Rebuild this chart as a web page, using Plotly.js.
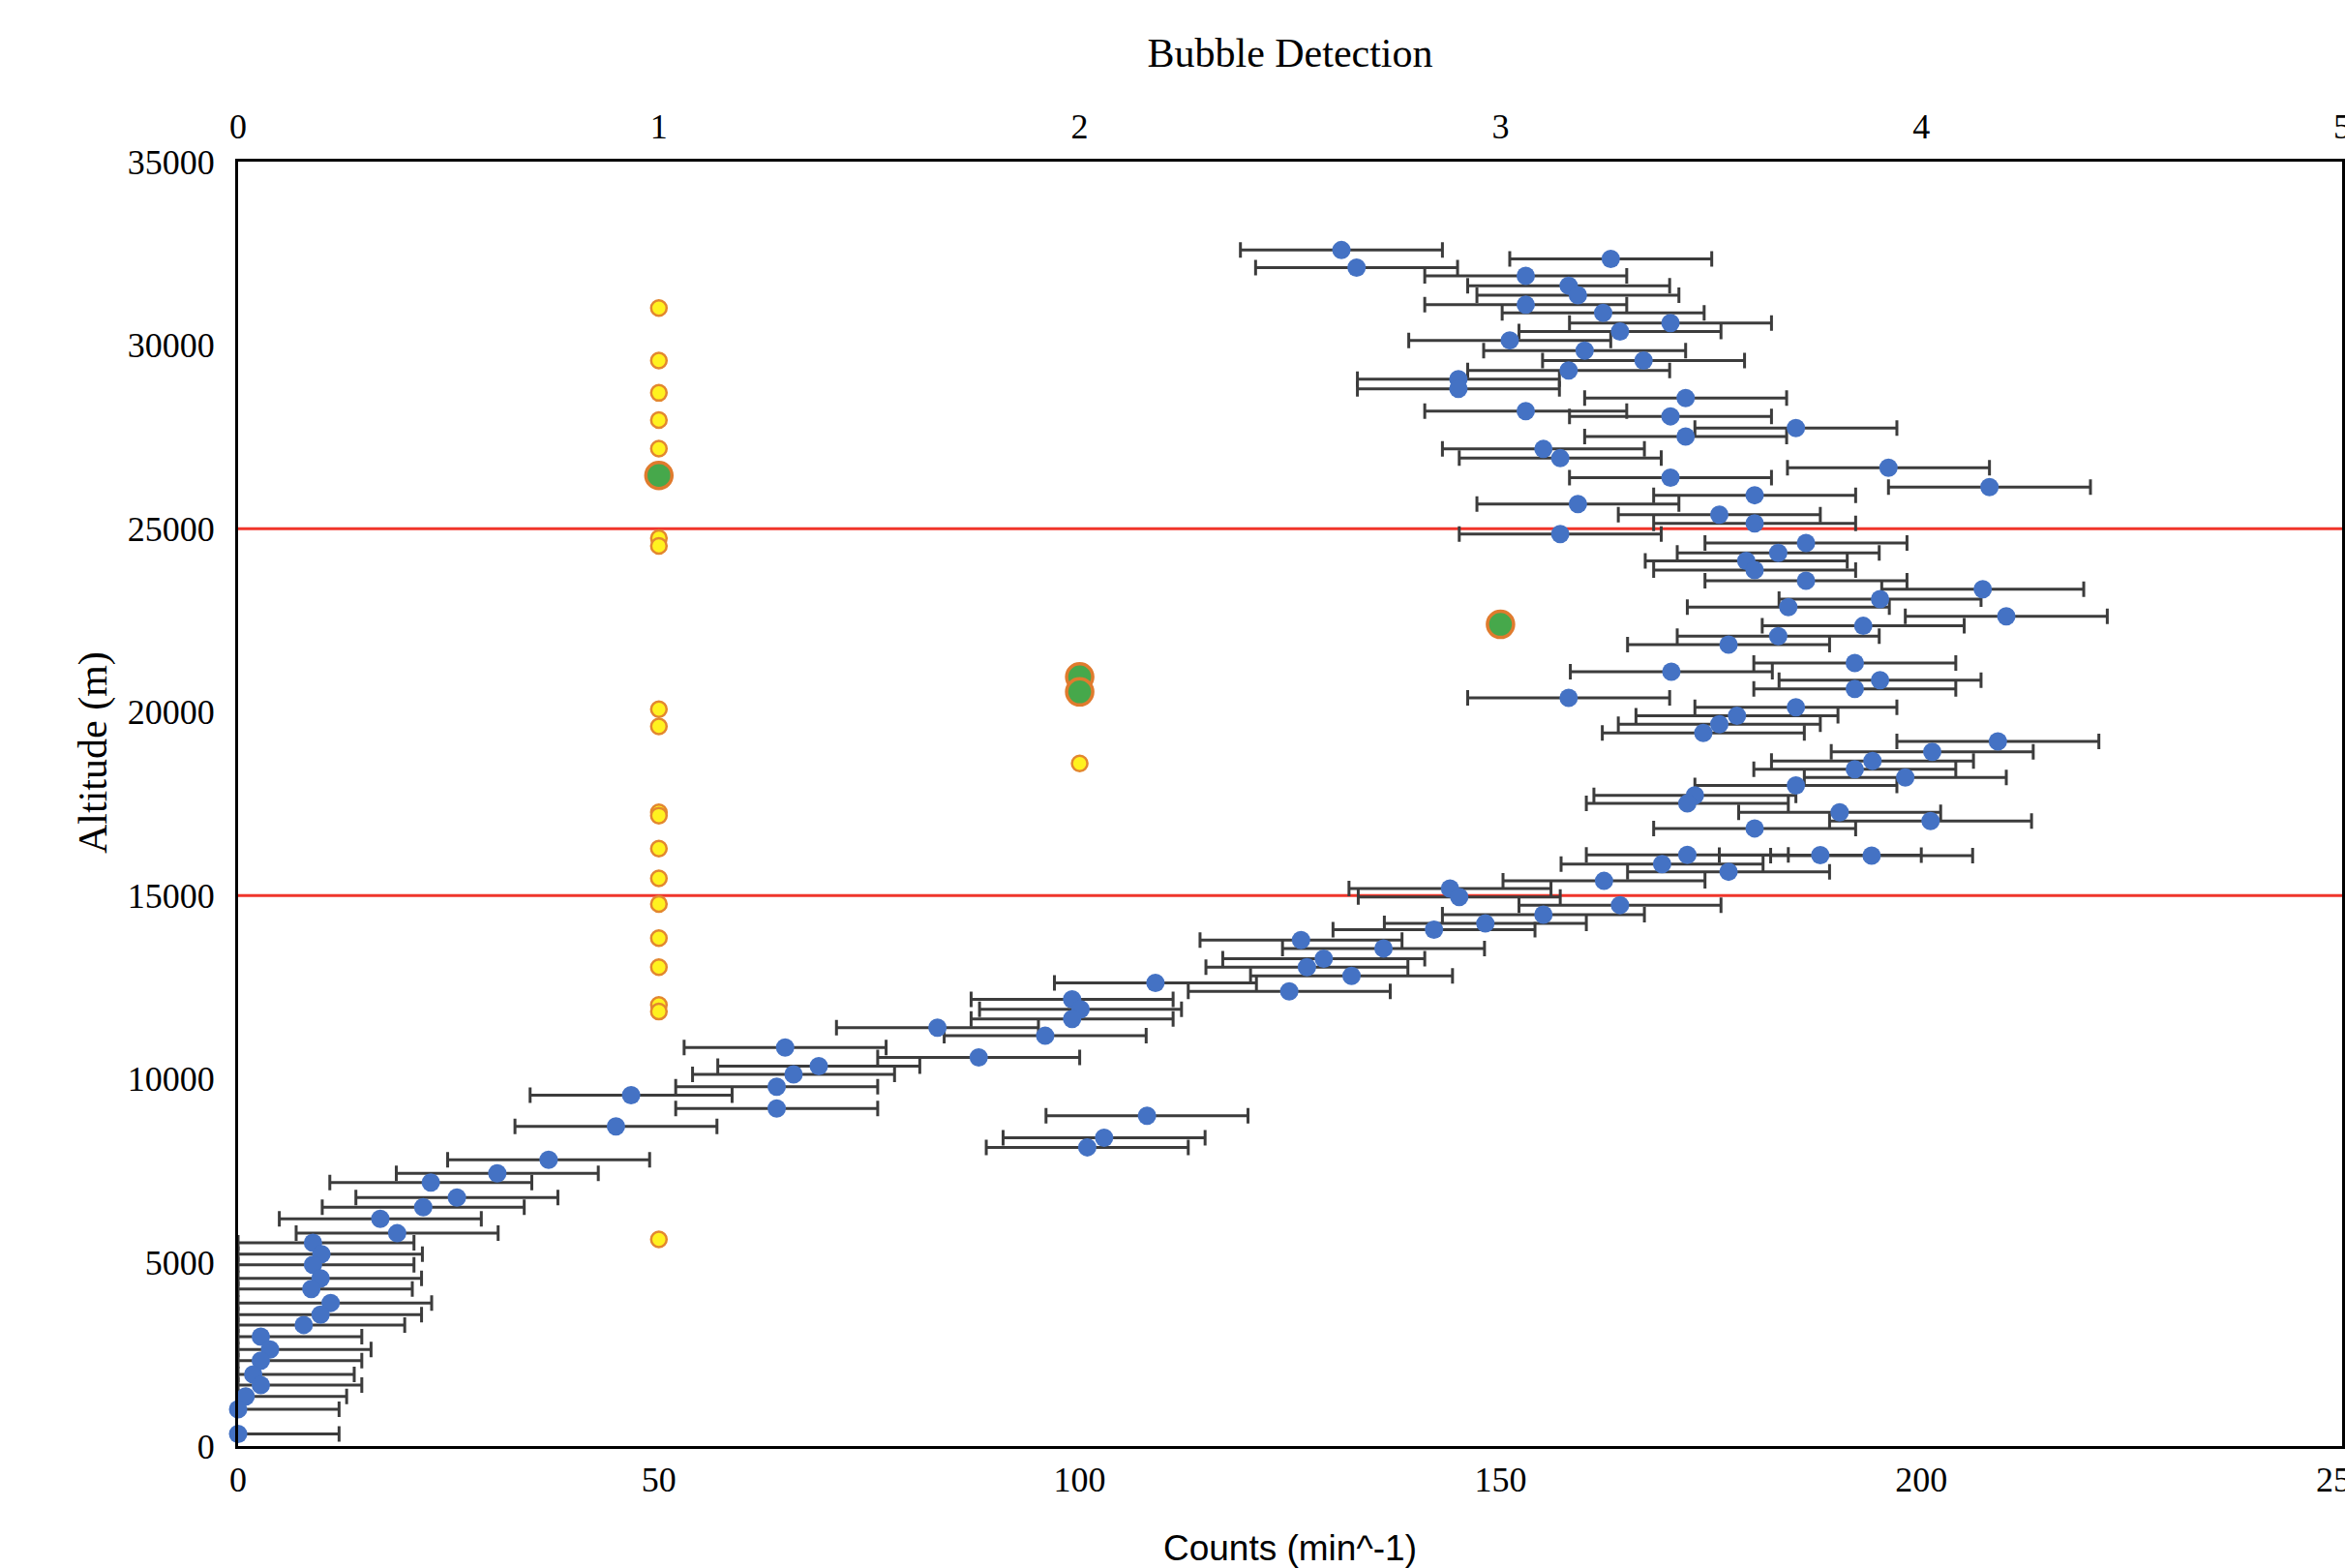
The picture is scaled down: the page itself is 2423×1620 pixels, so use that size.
<!DOCTYPE html>
<html>
<head>
<meta charset="utf-8">
<script src="https://cdn.plot.ly/plotly-3.0.1.min.js"></script>
<style>
  html, body { margin: 0; padding: 0; background: #ffffff; overflow: hidden; }
  #chart { width: 2423px; height: 1620px; }
</style>
</head>
<body>
<div id="chart"></div>
<script>
// ---- Data ----
// Counts (min^-1) vs altitude, with horizontal error bars
const countAltitude = [32590,32350,32110,31890,31620,31360,31100,30880,30600,30370,
  30130,29850,29580,29310,29070,28810,28560,28200,28060,27740,
  27510,27170,26920,26660,26390,26130,25910,25670,25380,25140,
  24850,24610,24340,24120,23870,23580,23350,23080,22860,22610,
  22350,22070,21840,21340,21100,20870,20630,20390,20130,19900,
  19670,19430,19200,18920,18670,18440,18220,18000,17730,17510,
  17270,17030,16830,16110,16100,16090,15860,15650,15400,15190,
  14960,14740,14480,14240,14070,13790,13560,13280,13050,12810,
  12620,12390,12170,11900,11640,11400,11180,10860,10590,10350,
  10130,9790,9560,9200,9000,8710,8400,8140,7800,7430,
  7180,6770,6510,6190,5800,5540,5230,4940,4570,4280,
  3900,3580,3300,2980,2630,2330,1950,1660,1350,1000,
  330];
const countRate = [131.1,163.1,132.9,153.0,158.1,159.2,153.0,162.2,170.2,164.2,
  151.1,160.0,167.0,158.1,145.0,145.0,172.0,153.0,170.2,185.1,
  172.0,155.1,157.1,196.1,170.2,208.1,180.2,159.2,176.0,180.2,
  157.1,186.3,183.0,179.2,180.2,186.3,207.3,195.1,184.2,210.1,
  193.1,183.0,177.1,192.1,170.3,195.1,192.1,158.1,185.1,178.1,
  176.0,174.1,209.1,201.3,194.2,192.1,198.1,185.1,173.1,172.2,
  190.3,201.1,180.2,172.2,188.0,194.1,169.2,177.1,162.3,144.0,
  145.1,164.2,155.1,148.2,142.1,126.3,136.1,129.0,127.0,132.3,
  109.0,124.9,99.1,100.1,99.1,83.1,95.9,65.0,88.0,69.0,
  66.0,64.0,46.7,64.0,108.0,44.9,102.9,100.9,36.9,30.8,
  22.9,26.0,22.0,16.9,18.9,8.9,9.9,8.9,9.8,8.7,
  11.0,9.8,7.8,2.7,3.8,2.7,1.8,2.7,0.9,0.0,
  0.0];
const countError = 12;   // half-width of every error bar (counts/min)

// Bubble detections (top axis), single detections (yellow)
const bubbleSingleCount = [1,1,1,1,1,1,1,1,1,1,
  1,1,1,1,1,1,1,1,1,2];
const bubbleSingleAltitude = [31010,29580,28700,27960,27180,24740,24530,20080,19610,17270,
  17180,16280,15470,14770,13840,13050,12020,11840,5630,18600];
// Bubble detections (top axis), highlighted detections (green)
const bubbleMarkedCount = [1,2,2,3];
const bubbleMarkedAltitude = [26450,20960,20550,22390];

// Altitude band limits (red lines)
const bandLimits = [15000, 25000];

// Axis ticks
const bottomTicks = [0,50,100,150,200,250];
const topTicks = [0,1,2,3,4,5];
const leftTicks = [0,5000,10000,15000,20000,25000,30000,35000];

// ---- Traces ----
const errMinus = countRate.map(v => Math.min(countError, v)); // bar stops at the axis
const errPlus = countRate.map(() => countError);

const traces = [
  {
    type: 'scatter', mode: 'markers',
    x: countRate, y: countAltitude,
    xaxis: 'x', yaxis: 'y',
    marker: { color: '#4472C4', size: 19, line: { width: 0 } },
    error_x: { type: 'data', symmetric: false, array: errPlus, arrayminus: errMinus,
               color: '#3c3c3c', thickness: 3, width: 8 },
    cliponaxis: false,
    showlegend: false, hoverinfo: 'x+y'
  },
  {
    type: 'scatter', mode: 'markers',
    x: bubbleSingleCount, y: bubbleSingleAltitude,
    xaxis: 'x2', yaxis: 'y',
    marker: { color: '#FFF21F', size: 16, line: { color: '#E3872F', width: 2.5 } },
    cliponaxis: false,
    showlegend: false, hoverinfo: 'x+y'
  },
  {
    type: 'scatter', mode: 'markers',
    x: bubbleMarkedCount, y: bubbleMarkedAltitude,
    xaxis: 'x2', yaxis: 'y',
    marker: { color: '#46A84B', size: 27, line: { color: '#E07B2E', width: 3.5 } },
    cliponaxis: false,
    showlegend: false, hoverinfo: 'x+y'
  }
];

const shapes = bandLimits.map(v => ({
  type: 'line', xref: 'paper', yref: 'y', x0: 0, x1: 1, y0: v, y1: v,
  line: { color: '#F0352B', width: 3 }, layer: 'below'
}));

const serif = 'Liberation Serif, Times New Roman, serif';
const sans = 'Liberation Sans, Arial, sans-serif';

const layout = {
  width: 2423, height: 1620,
  margin: { l: 246, r: 3, t: 167, b: 126, pad: 0 },
  paper_bgcolor: '#ffffff', plot_bgcolor: '#ffffff',
  showlegend: false,
  title: {
    text: 'Bubble Detection',
    font: { family: serif, size: 42, color: '#000000' },
    xref: 'paper', x: 0.5, xanchor: 'center',
    yref: 'container', y: 1 - 54 / 1620, yanchor: 'middle'
  },
  xaxis: {
    range: [0, 250], tickvals: bottomTicks, ticktext: bottomTicks.map(String),
    showgrid: false, zeroline: false, showline: true, linecolor: '#000000', linewidth: 3,
    ticks: '', tickfont: { family: serif, size: 36, color: '#000000' },
    ticklabelstandoff: 1, ticklabeloverflow: 'allow',
    title: { text: 'Counts (min^-1)', font: { family: sans, size: 37, color: '#000000' }, standoff: 43 },
    automargin: false, fixedrange: true
  },
  xaxis2: {
    range: [0, 5], overlaying: 'x', side: 'top', anchor: 'y',
    tickvals: topTicks, ticktext: topTicks.map(String),
    showgrid: false, zeroline: false, showline: true, linecolor: '#000000', linewidth: 3,
    ticks: '', tickfont: { family: serif, size: 36, color: '#000000' },
    ticklabelstandoff: 7, ticklabeloverflow: 'allow',
    automargin: false, fixedrange: true
  },
  yaxis: {
    range: [0, 35000], tickvals: leftTicks, ticktext: leftTicks.map(String),
    showgrid: false, zeroline: false, showline: true, mirror: true,
    linecolor: '#000000', linewidth: 3,
    ticks: '', tickfont: { family: serif, size: 36, color: '#000000' },
    ticklabelstandoff: 14,
    automargin: false, fixedrange: true
  },
  annotations: [{
    text: 'Altitude (m)', textangle: -90,
    font: { family: serif, size: 42, color: '#000000' },
    xref: 'paper', yref: 'paper',
    x: (96 - 246) / 2174, y: (1494 - 778) / 1327,
    xanchor: 'center', yanchor: 'middle', showarrow: false
  }],
  shapes: shapes
};

Plotly.newPlot('chart', traces, layout, { displayModeBar: false, staticPlot: true });
</script>
</body>
</html>
